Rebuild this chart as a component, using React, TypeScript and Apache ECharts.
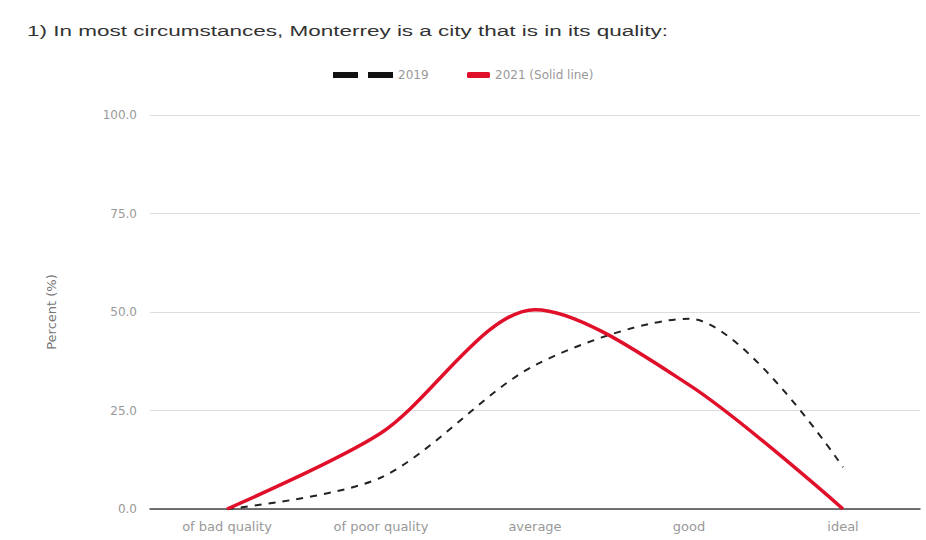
import React, { useEffect, useRef } from "react";
import * as echarts from "echarts";

const categories = ["of bad quality", "of poor quality", "average", "good", "ideal"];
const series2019 = [0, 8, 36.5, 48.3, 10.6];
const series2021 = [0, 19.3, 50.6, 31.5, 0];
const yTicks = [0, 25, 50, 75, 100];
const titleText = "1) In most circumstances, Monterrey is a city that is in its quality:";

export default function App() {
  const ref = useRef<HTMLDivElement>(null);
  useEffect(() => {
    if (!ref.current) return;
    const chart = echarts.init(ref.current, null, { renderer: "svg" });
    const font = "DejaVu Sans, Liberation Sans, sans-serif";
    chart.setOption({
      animation: false,
      textStyle: { fontFamily: font },
      graphic: [
        {
          type: "text",
          x: 27,
          y: 31,
          scaleX: 1.5,
          style: {
            text: titleText,
            fontSize: 15,
            fontFamily: "Liberation Sans, Arial, sans-serif",
            fill: "#333",
            verticalAlign: "middle",
          },
        },
      ],
      legend: [
        {
          left: 328,
          top: 64,
          itemWidth: 60,
          itemHeight: 6,
          textStyle: { fontSize: 12, color: "#999", fontFamily: font },
          data: [
            {
              name: "2019",
              icon: "path://M0,0H25V6H0Z M35,0H60V6H35Z",
              itemStyle: { color: "#111" },
            },
          ],
        },
        {
          left: 462,
          top: 64,
          itemWidth: 23,
          itemHeight: 6,
          textStyle: { fontSize: 12, color: "#999", fontFamily: font },
          data: [
            {
              name: "2021 (Solid line)",
              icon: "roundRect",
              itemStyle: { color: "#e0102b" },
            },
          ],
        },
      ],
      grid: { left: 150, right: 6, top: 115, bottom: 31 },
      xAxis: {
        type: "category",
        data: categories,
        boundaryGap: true,
        axisLine: { lineStyle: { color: "#444", width: 1.5 } },
        axisTick: { show: false },
        axisLabel: { color: "#999", fontSize: 13, margin: 11, fontFamily: font },
      },
      yAxis: {
        type: "value",
        min: yTicks[0],
        max: yTicks[yTicks.length - 1],
        interval: 25,
        name: "Percent (%)",
        nameLocation: "middle",
        nameGap: 92,
        nameTextStyle: { color: "#777", fontSize: 13, fontFamily: font },
        axisLine: { show: false },
        axisTick: { show: false },
        axisLabel: {
          color: "#999",
          fontSize: 12,
          margin: 13,
          fontFamily: font,
          formatter: (v: number) => v.toFixed(1),
        },
        splitLine: { lineStyle: { color: "#ddd", width: 1 } },
      },
      series: [
        {
          name: "2019",
          type: "line",
          data: series2019,
          smooth: 0.3,
          symbol: "none",
          lineStyle: { color: "#222", width: 2, type: [7, 7] },
          itemStyle: { color: "#222" },
          z: 2,
        },
        {
          name: "2021 (Solid line)",
          type: "line",
          data: series2021,
          smooth: 0.3,
          symbol: "none",
          lineStyle: { color: "#e0102b", width: 3.5 },
          itemStyle: { color: "#e0102b" },
          z: 3,
        },
      ],
    });
    return () => chart.dispose();
  }, []);
  return <div ref={ref} style={{ width: 926, height: 540, position: "absolute", left: 0, top: 0 }} />;
}
